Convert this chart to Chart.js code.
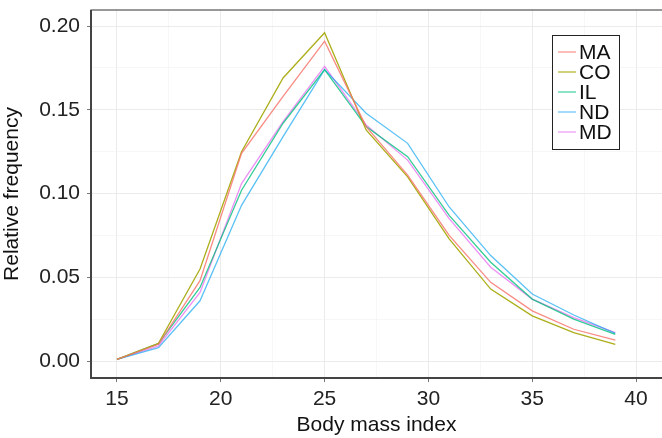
<!DOCTYPE html>
<html>
<head>
<meta charset="utf-8">
<script src="https://cdn.jsdelivr.net/npm/chart.js@4/dist/chart.umd.min.js"></script>
<style>
    body { margin: 0; background: #fff; }
    #wrap { width: 662px; height: 438px; }
</style>
</head>
<body>
<div id="wrap"><canvas id="bmiChart" width="662" height="438"></canvas></div>
<script>
// Data
const bmi = [15, 17, 19, 21, 23, 25, 27, 29, 31, 33, 35, 37, 39];
const maFreq = [0.001, 0.010, 0.048, 0.124, 0.158, 0.191, 0.140, 0.111, 0.075, 0.047, 0.030, 0.019, 0.0125];
const coFreq = [0.001, 0.0106, 0.055, 0.125, 0.169, 0.196, 0.138, 0.110, 0.073, 0.043, 0.027, 0.017, 0.010];
const ilFreq = [0.001, 0.0104, 0.044, 0.102, 0.142, 0.174, 0.140, 0.122, 0.087, 0.059, 0.037, 0.025, 0.016];
const ndFreq = [0.001, 0.008, 0.036, 0.093, 0.134, 0.174, 0.148, 0.130, 0.092, 0.063, 0.040, 0.0275, 0.0165];
const mdFreq = [0.001, 0.009, 0.041, 0.106, 0.143, 0.176, 0.141, 0.120, 0.085, 0.056, 0.037, 0.026, 0.017];
const states = ['MA', 'CO', 'IL', 'ND', 'MD'];
const xGrid = [15, 17.5, 20, 22.5, 25, 27.5, 30, 32.5, 35, 37.5, 40];
const yGrid = [0, 0.025, 0.05, 0.075, 0.1, 0.125, 0.15, 0.175, 0.2];

const colors = ['rgba(248,118,109,0.85)', 'rgba(163,165,0,0.9)', 'rgba(0,191,125,0.8)', 'rgba(0,160,240,0.65)', 'rgba(231,107,243,0.75)'];
const series = [maFreq, coFreq, ilFreq, ndFreq, mdFreq];

const datasets = states.map((name, i) => ({
    label: name,
    data: bmi.map((x, j) => ({ x: x, y: series[i][j] })),
    borderColor: colors[i],
    borderWidth: 1.3,
    pointRadius: 0,
    fill: false,
    tension: 0
}));

const isMajorX = v => v % 5 === 0;
const isMajorY = v => Math.abs(Math.round(v * 20) - v * 20) < 1e-9;
const fontFamily = '"Liberation Sans", Arial, sans-serif';

// legend box drawn inside the panel, plus the panel border
const panelExtras = {
    id: 'panelExtras',
    afterDraw(chart) {
        const ctx = chart.ctx;
        const area = chart.chartArea;
        ctx.save();
        ctx.strokeStyle = '#333';
        ctx.lineWidth = 1;
        ctx.strokeRect(area.left, area.top, area.right - area.left + 2, area.bottom - area.top);
        ctx.lineWidth = 2;
        ctx.strokeStyle = '#444';
        ctx.beginPath();
        ctx.moveTo(area.left, area.top);
        ctx.lineTo(area.left, area.bottom);
        ctx.lineTo(area.right + 2, area.bottom);
        ctx.stroke();

        const bx = 552, by = 35, bw = 67, bh = 114;
        ctx.fillStyle = '#fff';
        ctx.fillRect(bx, by, bw, bh);
        ctx.strokeStyle = '#222';
        ctx.lineWidth = 1;
        ctx.strokeRect(bx + 0.5, by + 0.5, bw, bh);
        ctx.font = '21px ' + fontFamily;
        ctx.textBaseline = 'middle';
        chart.data.datasets.forEach((ds, i) => {
            const cy = by + 17 + i * 20;
            ctx.strokeStyle = ds.borderColor;
            ctx.globalAlpha = 0.75;
            ctx.lineWidth = 1.5;
            ctx.beginPath();
            ctx.moveTo(bx + 6, cy);
            ctx.lineTo(bx + 24, cy);
            ctx.stroke();
            ctx.globalAlpha = 1;
            ctx.fillStyle = '#111';
            ctx.fillText(ds.label, bx + 27, cy + 1);
        });
        ctx.restore();
    }
};

new Chart(document.getElementById('bmiChart').getContext('2d'), {
    type: 'line',
    data: { datasets: datasets },
    options: {
        responsive: false,
        devicePixelRatio: 1,
        animation: false,
        layout: { padding: { top: 10, right: 0, left: 0, bottom: 0 } },
        plugins: {
            legend: { display: false },
            tooltip: { enabled: false }
        },
        scales: {
            x: {
                type: 'linear',
                min: 13.75,
                max: 41.25,
                afterBuildTicks: scale => { scale.ticks = xGrid.map(v => ({ value: v })); },
                afterFit: scale => {
                    scale.height = 60;
                    scale.paddingLeft = 0;
                    scale.paddingRight = 0;
                },
                border: { display: false },
                grid: {
                    color: ctx => isMajorX(ctx.tick.value) ? '#ebebeb' : '#f3f3f3',
                    lineWidth: ctx => isMajorX(ctx.tick.value) ? 1 : 0.7,
                    tickColor: ctx => isMajorX(ctx.tick.value) ? '#777' : 'rgba(0,0,0,0)',
                    tickLength: 4
                },
                ticks: {
                    autoSkip: false,
                    maxRotation: 0,
                    padding: 5,
                    color: '#222',
                    font: { family: fontFamily, size: 21 },
                    callback: v => isMajorX(v) ? String(v) : ''
                },
                title: {
                    display: true,
                    text: 'Body mass index',
                    color: '#111',
                    padding: { top: 3, bottom: 0 },
                    font: { family: fontFamily, size: 21 }
                }
            },
            y: {
                min: -0.0101,
                max: 0.2096,
                afterBuildTicks: scale => { scale.ticks = yGrid.map(v => ({ value: v })); },
                afterFit: scale => {
                    scale.width = 91;
                    scale.paddingTop = 0;
                    scale.paddingBottom = 0;
                },
                border: { display: false },
                grid: {
                    color: ctx => isMajorY(ctx.tick.value) ? '#ebebeb' : '#f3f3f3',
                    lineWidth: ctx => isMajorY(ctx.tick.value) ? 1 : 0.7,
                    tickColor: ctx => isMajorY(ctx.tick.value) ? '#777' : 'rgba(0,0,0,0)',
                    tickLength: 4
                },
                ticks: {
                    autoSkip: false,
                    padding: 7,
                    color: '#222',
                    font: { family: fontFamily, size: 21 },
                    callback: v => isMajorY(v) ? v.toFixed(2) : ''
                },
                title: {
                    display: true,
                    text: 'Relative frequency',
                    color: '#111',
                    padding: { top: 0, bottom: 2 },
                    font: { family: fontFamily, size: 21 }
                }
            }
        }
    },
    plugins: [panelExtras]
});
</script>
</body>
</html>
